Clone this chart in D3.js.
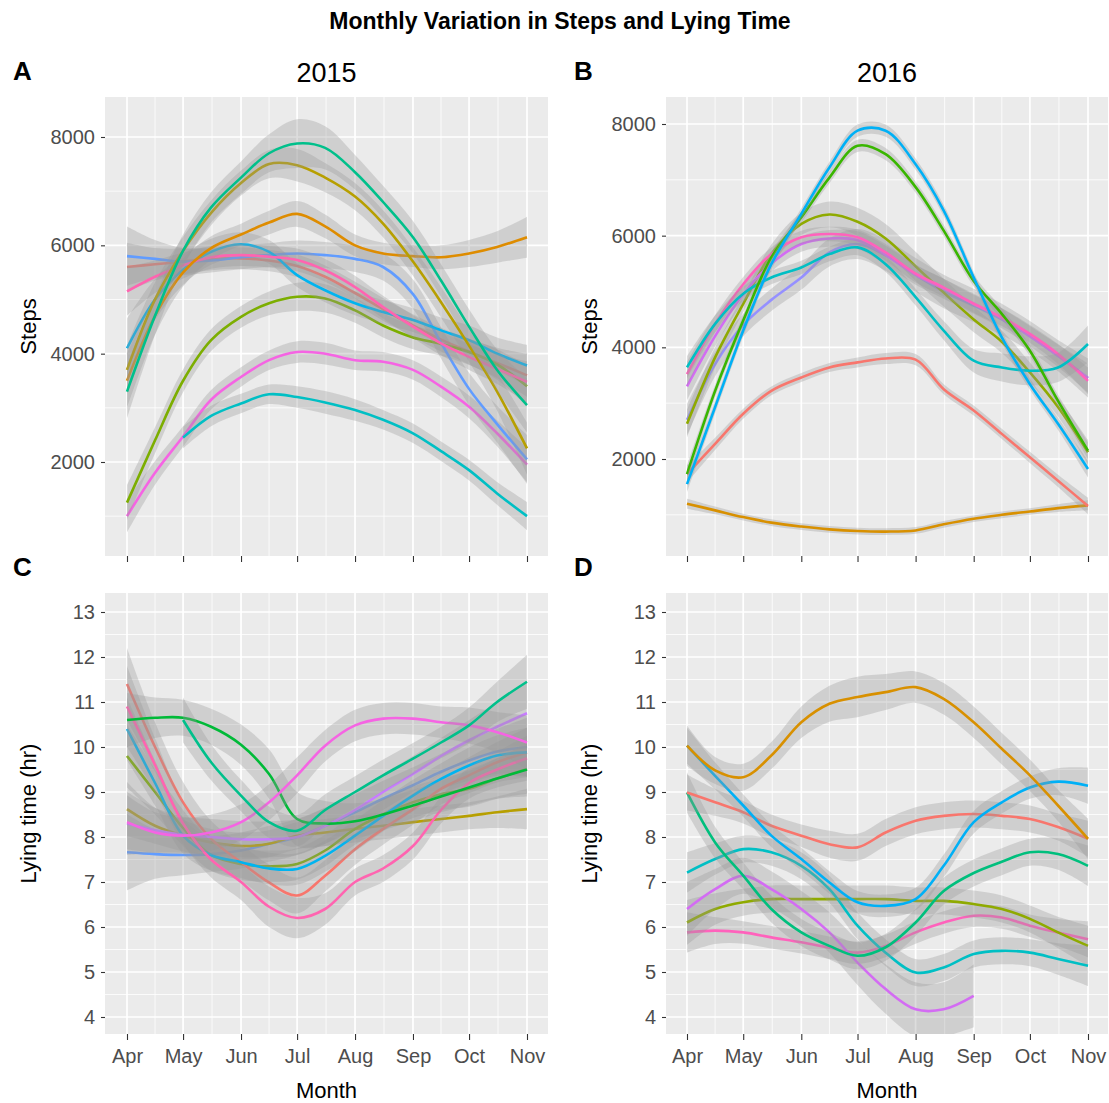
<!DOCTYPE html>
<html>
<head>
<meta charset="utf-8">
<script src="https://cdn.jsdelivr.net/npm/d3@7"></script>
<style>
  body { margin: 0; background: #fff; }
  text { font-family: "Liberation Sans", Arial, sans-serif; }
</style>
</head>
<body>
<svg id="chart" width="1109" height="1103"></svg>
<script>
// Monthly variation in steps and lying time -- smoothed curve per cow, 2015 vs 2016

// Half-monthly sample days (month-day), the same for both years
var sampleDays = ["04-01", "04-16", "05-01", "05-16", "06-01", "06-16", "07-01", "07-16",
                  "08-01", "08-16", "09-01", "09-16", "10-01", "10-16", "11-01"];
var monthDays = ["04-01", "05-01", "06-01", "07-01", "08-01", "09-01", "10-01", "11-01"];
var monthNames = ["Apr", "May", "Jun", "Jul", "Aug", "Sep", "Oct", "Nov"];

var stepTicks = [2000, 4000, 6000, 8000];
var lyingTicks = [4, 5, 6, 7, 8, 9, 10, 11, 12, 13];

// cow ids per year (order = colour order)
var cows2015 = ["1", "2", "3", "4", "5", "6", "7", "8", "9", "10", "11", "12"];
var cows2016 = ["1", "2", "3", "4", "5", "6", "7", "8", "9", "10"];

// Panel A: steps 2015. start = index into sampleDays of the first value
var steps2015 = [
  { cow: "1",  start: 0, v: [5600, 5650, 5700, 5750, 5760, 5720, 5620, 5420, 5120, 4820, 4520, 4260, 4040, 3830, 3600],
    se: [450, 300, 240, 210, 200, 200, 210, 210, 210, 210, 210, 220, 240, 280, 400] },
  { cow: "11", start: 0, v: [1000, 1800, 2470, 3150, 3570, 3880, 4030, 4000, 3880, 3850, 3700, 3390, 3020, 2530, 1950],
    se: [300, 220, 190, 180, 180, 180, 200, 200, 180, 180, 180, 190, 210, 240, 320] },
  { cow: "7",  start: 2, v: [2450, 2850, 3080, 3250, 3200, 3100, 2960, 2780, 2530, 2200, 1850, 1420, 1000],
    se: [200, 190, 180, 180, 200, 210, 200, 180, 180, 180, 190, 210, 260] },
  { cow: "4",  start: 0, v: [1250, 2400, 3500, 4250, 4680, 4930, 5050, 5020, 4800, 4520, 4300, 4180, 4030, 3800, 3400],
    se: [320, 240, 210, 200, 200, 220, 260, 260, 230, 220, 220, 220, 240, 280, 380] },
  { cow: "9",  start: 0, v: [5800, 5750, 5700, 5720, 5780, 5820, 5850, 5820, 5750, 5600, 5100, 4200, 3350, 2700, 2050],
    se: [550, 350, 250, 220, 220, 220, 240, 240, 240, 250, 270, 290, 300, 340, 450] },
  { cow: "8",  start: 0, v: [4100, 5000, 5550, 5880, 6020, 5880, 5450, 5170, 4930, 4770, 4620, 4430, 4250, 4000, 3780],
    se: [550, 380, 280, 240, 220, 220, 220, 220, 220, 220, 220, 240, 270, 300, 380] },
  { cow: "12", start: 0, v: [5150, 5420, 5630, 5780, 5820, 5790, 5730, 5540, 5230, 4860, 4500, 4190, 3940, 3720, 3480],
    se: [450, 300, 240, 210, 200, 200, 210, 210, 210, 210, 210, 220, 240, 280, 380] },
  { cow: "2",  start: 0, v: [3500, 4700, 5500, 5950, 6200, 6420, 6580, 6350, 6000, 5850, 5800, 5780, 5850, 5970, 6150],
    se: [500, 350, 260, 220, 200, 220, 240, 220, 200, 200, 200, 220, 250, 290, 380] },
  { cow: "3",  start: 0, v: [3700, 5000, 5900, 6600, 7150, 7500, 7480, 7250, 6900, 6400, 5700, 4950, 4150, 3300, 2250],
    se: [450, 320, 260, 230, 230, 260, 300, 270, 250, 250, 260, 280, 300, 350, 480] },
  { cow: "6",  start: 0, v: [3300, 4700, 5900, 6700, 7250, 7700, 7880, 7800, 7350, 6800, 6150, 5350, 4500, 3700, 3050],
    se: [500, 350, 300, 280, 300, 350, 450, 400, 320, 300, 300, 300, 320, 380, 500] }
];

// Panel B: steps 2016
var steps2016 = [
  { cow: "2",  start: 0, v: [1200, 1080, 960, 860, 790, 740, 710, 700, 720, 830, 930, 1000, 1060, 1120, 1170],
    se: [90, 70, 60, 60, 60, 60, 60, 60, 60, 60, 60, 60, 60, 70, 90] },
  { cow: "1",  start: 0, v: [1730, 2270, 2810, 3220, 3460, 3640, 3730, 3800, 3780, 3250, 2870, 2450, 2030, 1610, 1160],
    se: [150, 110, 90, 80, 80, 80, 90, 100, 100, 90, 90, 90, 100, 110, 150] },
  { cow: "8",  start: 0, v: [2700, 3700, 4400, 4850, 5250, 5700, 5850, 5650, 5300, 5000, 4750, 4500, 4200, 3850, 3450],
    se: [280, 220, 200, 200, 220, 250, 270, 280, 300, 300, 300, 280, 270, 280, 350] },
  { cow: "3",  start: 0, v: [2630, 3820, 4780, 5670, 6210, 6380, 6250, 5950, 5450, 4980, 4500, 4100, 3550, 2930, 2120],
    se: [250, 180, 150, 170, 200, 230, 250, 260, 260, 250, 230, 200, 180, 170, 220] },
  { cow: "9",  start: 0, v: [3300, 4200, 4950, 5500, 5850, 5950, 5920, 5650, 5300, 5050, 4780, 4520, 4200, 3850, 3450],
    se: [250, 180, 150, 140, 140, 150, 160, 170, 180, 180, 180, 180, 180, 200, 260] },
  { cow: "10", start: 0, v: [3520, 4420, 5130, 5670, 5970, 6030, 5970, 5700, 5320, 5070, 4780, 4540, 4240, 3880, 3400],
    se: [220, 160, 130, 120, 120, 130, 140, 150, 160, 160, 160, 160, 160, 180, 240] },
  { cow: "6",  start: 0, v: [3640, 4420, 4960, 5250, 5430, 5670, 5790, 5490, 4900, 4300, 3760, 3640, 3580, 3640, 4060],
    se: [200, 150, 130, 120, 120, 130, 140, 140, 150, 170, 210, 250, 260, 260, 330] },
  { cow: "4",  start: 0, v: [1730, 3220, 4480, 5610, 6330, 7040, 7610, 7460, 6870, 6090, 5190, 4600, 3940, 3040, 2150],
    se: [150, 110, 100, 100, 100, 100, 110, 110, 100, 100, 100, 100, 100, 110, 150] },
  { cow: "7",  start: 0, v: [1550, 2930, 4300, 5490, 6390, 7220, 7880, 7880, 7280, 6450, 5250, 4180, 3340, 2630, 1820],
    se: [150, 110, 100, 100, 100, 100, 110, 110, 100, 100, 100, 100, 100, 110, 150] }
];

// Panel C: lying time (hr) 2015
var lying2015 = [
  { cow: "9",  start: 0, v: [7.66, 7.62, 7.6, 7.62, 7.7, 7.85, 8.0, 8.25, 8.55, 8.85, 9.15, 9.45, 9.7, 9.9, 10.0],
    se: [0.85, 0.55, 0.45, 0.4, 0.4, 0.4, 0.4, 0.4, 0.4, 0.4, 0.4, 0.4, 0.45, 0.5, 0.65] },
  { cow: "3",  start: 0, v: [8.62, 8.25, 8.03, 7.88, 7.8, 7.85, 8.03, 8.1, 8.18, 8.25, 8.33, 8.4, 8.47, 8.55, 8.62],
    se: [0.6, 0.4, 0.35, 0.3, 0.3, 0.3, 0.3, 0.3, 0.3, 0.3, 0.3, 0.3, 0.3, 0.35, 0.45] },
  { cow: "4",  start: 0, v: [9.8, 9.0, 8.2, 7.6, 7.4, 7.35, 7.4, 7.7, 8.18, 8.5, 8.77, 8.95, 9.07, 9.3, 9.51],
    se: [0.7, 0.5, 0.4, 0.35, 0.35, 0.35, 0.35, 0.35, 0.35, 0.35, 0.35, 0.35, 0.4, 0.45, 0.55] },
  { cow: "1",  start: 0, v: [11.4, 10.0, 8.77, 7.96, 7.44, 6.99, 6.7, 7.14, 7.73, 8.18, 8.62, 9.07, 9.37, 9.66, 9.88],
    se: [0.8, 0.55, 0.45, 0.4, 0.4, 0.4, 0.4, 0.35, 0.35, 0.35, 0.35, 0.35, 0.4, 0.45, 0.55] },
  { cow: "8",  start: 0, v: [10.4, 9.2, 8.03, 7.6, 7.44, 7.3, 7.29, 7.58, 8.03, 8.47, 8.92, 9.29, 9.59, 9.81, 9.88],
    se: [0.7, 0.5, 0.4, 0.35, 0.35, 0.35, 0.35, 0.35, 0.35, 0.35, 0.35, 0.35, 0.4, 0.45, 0.55] },
  { cow: "10", start: 0, v: [8.3, 8.15, 8.05, 8.0, 7.95, 7.95, 8.0, 8.25, 8.6, 9.0, 9.4, 9.8, 10.15, 10.45, 10.75],
    se: [0.7, 0.5, 0.4, 0.4, 0.4, 0.4, 0.4, 0.4, 0.4, 0.4, 0.4, 0.4, 0.45, 0.55, 0.7] },
  { cow: "12", start: 0, v: [10.9, 9.6, 8.3, 7.5, 7.0, 6.45, 6.2, 6.4, 7.0, 7.3, 7.8, 8.6, 9.2, 9.5, 9.75],
    se: [0.9, 0.6, 0.45, 0.4, 0.4, 0.45, 0.45, 0.35, 0.3, 0.3, 0.3, 0.3, 0.35, 0.4, 0.5] },
  { cow: "5",  start: 0, v: [10.6, 10.65, 10.65, 10.45, 10.05, 9.4, 8.4, 8.3, 8.35, 8.5, 8.7, 8.9, 9.1, 9.3, 9.5],
    se: [0.6, 0.45, 0.4, 0.4, 0.45, 0.55, 0.6, 0.5, 0.4, 0.35, 0.35, 0.35, 0.4, 0.45, 0.6] },
  { cow: "11", start: 0, v: [8.33, 8.1, 8.03, 8.1, 8.33, 8.77, 9.37, 10.03, 10.48, 10.63, 10.63, 10.55, 10.48, 10.33, 10.1],
    se: [0.6, 0.45, 0.4, 0.4, 0.4, 0.4, 0.4, 0.35, 0.35, 0.35, 0.35, 0.35, 0.4, 0.45, 0.6] },
  { cow: "6",  start: 2, v: [10.6, 9.66, 8.92, 8.33, 8.14, 8.6, 9.0, 9.37, 9.74, 10.1, 10.48, 11.0, 11.45],
    se: [0.5, 0.4, 0.35, 0.35, 0.35, 0.35, 0.35, 0.35, 0.35, 0.35, 0.4, 0.45, 0.6] }
];

// Panel D: lying time (hr) 2016
var lying2016 = [
  { cow: "10", start: 0, v: [5.88, 5.92, 5.88, 5.77, 5.66, 5.54, 5.43, 5.58, 5.88, 6.1, 6.25, 6.21, 6.03, 5.88, 5.73],
    se: [0.45, 0.3, 0.25, 0.25, 0.25, 0.25, 0.25, 0.25, 0.25, 0.25, 0.25, 0.25, 0.25, 0.3, 0.4] },
  { cow: "3",  start: 0, v: [6.1, 6.4, 6.55, 6.62, 6.62, 6.62, 6.62, 6.62, 6.58, 6.58, 6.51, 6.4, 6.18, 5.88, 5.58],
    se: [0.5, 0.35, 0.3, 0.3, 0.3, 0.3, 0.3, 0.3, 0.3, 0.3, 0.3, 0.3, 0.3, 0.35, 0.45] },
  { cow: "9",  start: 0, v: [6.4, 6.84, 7.14, 6.84, 6.4, 5.88, 5.21, 4.62, 4.17, 4.17, 4.47],
    se: [0.6, 0.45, 0.4, 0.4, 0.4, 0.45, 0.5, 0.55, 0.6, 0.6, 0.7] },
  { cow: "6",  start: 0, v: [7.21, 7.51, 7.73, 7.66, 7.36, 6.84, 6.03, 5.43, 4.99, 5.1, 5.4, 5.47, 5.43, 5.29, 5.14],
    se: [0.45, 0.35, 0.3, 0.3, 0.3, 0.3, 0.3, 0.3, 0.3, 0.3, 0.3, 0.3, 0.3, 0.35, 0.45] },
  { cow: "5",  start: 0, v: [8.99, 7.88, 7.14, 6.4, 5.88, 5.58, 5.36, 5.55, 6.1, 6.8, 7.2, 7.45, 7.66, 7.62, 7.36],
    se: [0.45, 0.35, 0.3, 0.3, 0.3, 0.3, 0.3, 0.3, 0.3, 0.3, 0.3, 0.3, 0.3, 0.35, 0.45] },
  { cow: "1",  start: 0, v: [8.99, 8.77, 8.55, 8.25, 8.03, 7.84, 7.77, 8.1, 8.36, 8.47, 8.51, 8.47, 8.4, 8.22, 7.96],
    se: [0.4, 0.3, 0.25, 0.25, 0.25, 0.3, 0.3, 0.3, 0.3, 0.3, 0.3, 0.3, 0.3, 0.3, 0.4] },
  { cow: "7",  start: 0, v: [10.03, 9.36, 8.7, 8.03, 7.51, 6.99, 6.55, 6.47, 6.62, 7.36, 8.33, 8.77, 9.1, 9.23, 9.14],
    se: [0.4, 0.3, 0.25, 0.25, 0.25, 0.25, 0.25, 0.25, 0.25, 0.25, 0.25, 0.25, 0.25, 0.3, 0.4] },
  { cow: "2",  start: 0, v: [10.03, 9.48, 9.33, 9.81, 10.55, 10.96, 11.11, 11.22, 11.33, 11.07, 10.55, 9.96, 9.37, 8.7, 7.96],
    se: [0.45, 0.3, 0.3, 0.3, 0.35, 0.4, 0.45, 0.4, 0.35, 0.35, 0.35, 0.35, 0.35, 0.35, 0.45] }
];

// ggplot hue palettes
var palette2015 = ["#F8766D", "#DE8C00", "#B79F00", "#7CAE00", "#00BA38", "#00C08B",
                   "#00BFC4", "#00B4F0", "#619CFF", "#C77CFF", "#F564E3", "#FF64B0"];
var palette2016 = ["#F8766D", "#D89000", "#8FAA00", "#39B600", "#00BF7D",
                   "#00BFC4", "#00B0F6", "#9590FF", "#D36CF3", "#FF62BC"];

///////////////////////////////////////////////////////////////////////////////
// Setup

var svg = d3.select("#chart");
var parseDay = d3.timeParse("%Y-%m-%d");
var toDate = function (md) { return parseDay("2015-" + md); };
var days = sampleDays.map(toDate);
var months = monthDays.map(toDate);

var color2015 = d3.scaleOrdinal().domain(cows2015).range(palette2015);
var color2016 = d3.scaleOrdinal().domain(cows2016).range(palette2016);

svg.append("rect").attr("width", 1109).attr("height", 1103).attr("fill", "#fff");

svg.append("text")
  .attr("x", 560).attr("y", 29)
  .attr("text-anchor", "middle")
  .style("font-size", "23px").style("font-weight", "bold")
  .text("Monthly Variation in Steps and Lying Time");

var panels = [
  { tag: "A", series: steps2015, color: color2015, ticks: stepTicks, title: "2015", ylab: "Steps",
    left: 105, right: 548, top: 97, bottom: 556, xr: [127, 527], yr: [462, 137], labels: false },
  { tag: "B", series: steps2016, color: color2016, ticks: stepTicks, title: "2016", ylab: "Steps",
    left: 666, right: 1108, top: 97, bottom: 556, xr: [687, 1088], yr: [459, 124], labels: false },
  { tag: "C", series: lying2015, color: color2015, ticks: lyingTicks, title: null, ylab: "Lying time (hr)",
    left: 105, right: 548, top: 593, bottom: 1034, xr: [127, 527], yr: [1017, 612], labels: true },
  { tag: "D", series: lying2016, color: color2016, ticks: lyingTicks, title: null, ylab: "Lying time (hr)",
    left: 666, right: 1108, top: 593, bottom: 1034, xr: [687, 1088], yr: [1017, 612], labels: true }
];

///////////////////////////////////////////////////////////////////////////////
// Panels

var drawPanel = function (p, k) {
  var x = d3.scaleTime().domain([months[0], months[months.length - 1]]).range(p.xr);
  var y = d3.scaleLinear()
    .domain([p.ticks[0], p.ticks[p.ticks.length - 1]]).range(p.yr);
  var g = svg.append("g");
  var inX = function (v) { return v >= p.left && v <= p.right; };
  var inY = function (v) { return v >= p.top && v <= p.bottom; };

  g.append("rect")
    .attr("x", p.left).attr("y", p.top)
    .attr("width", p.right - p.left).attr("height", p.bottom - p.top)
    .attr("fill", "#EBEBEB");

  // minor grid: midway between majors
  var step = p.ticks[1] - p.ticks[0];
  var yMinor = d3.range(p.ticks[0] - step / 2, p.ticks[p.ticks.length - 1] + step, step)
    .filter(function (v) { return inY(y(v)); });
  var xMinor = d3.range(-1, months.length).map(function (i) {
    var a = months[Math.max(i, 0)], b = months[Math.min(i + 1, months.length - 1)];
    if (i < 0) return new Date(+a - (months[1] - months[0]) / 2);
    if (i === months.length - 1) return new Date(+a + (months[i] - months[i - 1]) / 2);
    return new Date((+a + +b) / 2);
  }).filter(function (d) { return inX(x(d)); });

  g.selectAll(".ymin").data(yMinor).enter().append("line")
    .attr("x1", p.left).attr("x2", p.right)
    .attr("y1", y).attr("y2", y)
    .attr("stroke", "#fff").attr("stroke-width", 0.8);
  g.selectAll(".xmin").data(xMinor).enter().append("line")
    .attr("y1", p.top).attr("y2", p.bottom)
    .attr("x1", x).attr("x2", x)
    .attr("stroke", "#fff").attr("stroke-width", 0.8);
  g.selectAll(".ymaj").data(p.ticks).enter().append("line")
    .attr("x1", p.left).attr("x2", p.right)
    .attr("y1", y).attr("y2", y)
    .attr("stroke", "#fff").attr("stroke-width", 1.7);
  g.selectAll(".xmaj").data(months).enter().append("line")
    .attr("y1", p.top).attr("y2", p.bottom)
    .attr("x1", x).attr("x2", x)
    .attr("stroke", "#fff").attr("stroke-width", 1.7);

  // smooths: ribbon then line for each cow
  var clipId = "clip" + k;
  svg.append("clipPath").attr("id", clipId).append("rect")
    .attr("x", p.left).attr("y", p.top)
    .attr("width", p.right - p.left).attr("height", p.bottom - p.top);
  var plot = g.append("g").attr("clip-path", "url(#" + clipId + ")");

  var px = function (s) { return function (d, i) { return x(days[s.start + i]); }; };
  p.series.forEach(function (s) {
    var area = d3.area()
      .x(px(s))
      .y0(function (d, i) { return y(d - s.se[i]); })
      .y1(function (d, i) { return y(d + s.se[i]); })
      .curve(d3.curveCatmullRom);
    var line = d3.line()
      .x(px(s))
      .y(function (d) { return y(d); })
      .curve(d3.curveCatmullRom);
    plot.append("path").attr("d", area(s.v))
      .attr("fill", "#999999").attr("fill-opacity", 0.33);
    plot.append("path").attr("d", line(s.v))
      .attr("fill", "none").attr("stroke", p.color(s.cow))
      .attr("stroke-width", 2.6).attr("stroke-linejoin", "round");
  });

  // axes
  var yAxis = d3.axisLeft(y).tickValues(p.ticks).tickSize(4).tickPadding(6)
    .tickFormat(d3.format("d"));
  var ya = g.append("g").attr("transform", "translate(" + p.left + ",0)").call(yAxis);
  var xAxis = d3.axisBottom(x).tickValues(months).tickSize(6).tickPadding(9)
    .tickFormat(function (d, i) { return p.labels ? monthNames[i] : ""; });
  var xa = g.append("g").attr("transform", "translate(0," + p.bottom + ")").call(xAxis);
  [ya, xa].forEach(function (a) {
    a.select(".domain").remove();
    a.selectAll(".tick line").attr("stroke", "#333").attr("stroke-width", 1.1);
    a.selectAll(".tick text").attr("fill", "#4D4D4D")
      .style("font-size", "20px").style("font-family", "Liberation Sans, Arial, sans-serif");
  });

  var cx = (p.left + p.right) / 2;
  g.append("text")
    .attr("x", p.left - 92).attr("y", p.top - 17)
    .style("font-size", "26px").style("font-weight", "bold")
    .text(p.tag);
  if (p.title)
    g.append("text")
      .attr("x", cx).attr("y", p.top - 15)
      .attr("text-anchor", "middle")
      .style("font-size", "27px")
      .text(p.title);
  g.append("text")
    .attr("transform", "translate(" + (p.left - 69) + "," + ((p.top + p.bottom) / 2) + ") rotate(-90)")
    .attr("text-anchor", "middle")
    .style("font-size", "22px")
    .text(p.ylab);
  if (p.labels)
    g.append("text")
      .attr("x", cx).attr("y", 1098)
      .attr("text-anchor", "middle")
      .style("font-size", "22px")
      .text("Month");
};

panels.forEach(drawPanel);
</script>
</body>
</html>
